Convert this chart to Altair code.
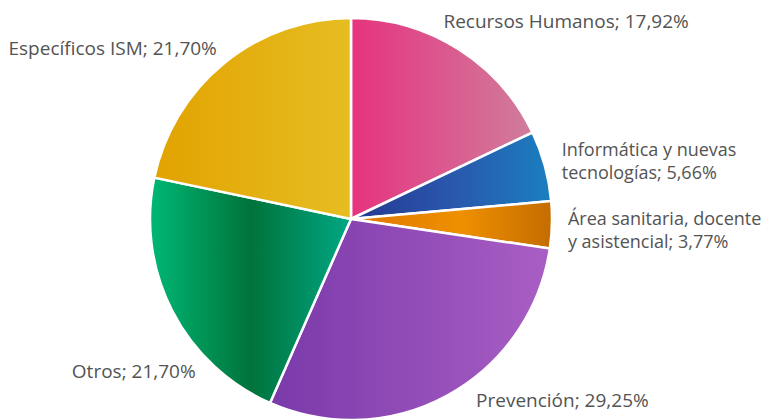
import altair as alt
import pandas as pd

categories = ["Recursos Humanos", "Informática y nuevas tecnologías",
              "Área sanitaria, docente y asistencial", "Prevención",
              "Otros", "Específicos ISM"]
values = [17.92, 5.66, 3.77, 29.25, 21.70, 21.70]
labels = ["Recursos Humanos; 17,92%",
          "Informática y nuevas\ntecnologías; 5,66%",
          "Área sanitaria, docente\ny asistencial; 3,77%",
          "Prevención; 29,25%",
          "Otros; 21,70%",
          "Específicos ISM; 21,70%"]

df = pd.DataFrame({"cat": categories, "value": values, "label": labels,
                   "order": list(range(len(categories)))})

# styles (gradient stops per slice) and label placement offsets
gradients = {
    "Recursos Humanos": [(0, "#E6337F"), (1, "#D07D9C")],
    "Informática y nuevas tecnologías": [(0, "#243890"), (0.5, "#2A57AC"), (1, "#1A7FBF")],
    "Área sanitaria, docente y asistencial": [(0, "#DF7700"), (0.55, "#EE9000"), (1, "#C46C00")],
    "Prevención": [(0, "#7A3AAA"), (1, "#A95EC4")],
    "Otros": [(0, "#00B874"), (0.5, "#00733B"), (1, "#00A884")],
    "Específicos ISM": [(0, "#E2A300"), (1, "#E6BD22")],
}
label_style = {
    "Recursos Humanos": dict(align="left", dx=-17, dy=-18, size=19),
    "Informática y nuevas tecnologías": dict(align="left", dx=13, dy=-9, size=18),
    "Área sanitaria, docente y asistencial": dict(align="left", dx=12, dy=0, size=18),
    "Prevención": dict(align="left", dx=26, dy=9, size=19),
    "Otros": dict(align="right", dx=27, dy=65, size=19),
    "Específicos ISM": dict(align="right", dx=-5, dy=-5, size=19),
}

base = alt.Chart(df).transform_window(
    cum="sum(value)", frame=[None, 0], sort=[alt.SortField("order")]
).transform_calculate(
    start="datum.cum - datum.value",
    mid="datum.cum - datum.value / 2",
)

theta_scale = alt.Scale(domain=[0, 100])
layers = []
for cat in categories:
    grad = alt.LinearGradient(
        gradient="linear",
        stops=[alt.GradientStop(offset=o, color=c) for o, c in gradients[cat]],
        x1=0, x2=1, y1=0, y2=0,
    )
    layers.append(
        base.transform_filter(alt.datum.cat == cat)
        .mark_arc(fill=grad, outerRadius=201, stroke="white", strokeWidth=2.5)
        .encode(theta=alt.Theta("start:Q", scale=theta_scale), theta2="cum:Q")
    )
for cat in categories:
    st = label_style[cat]
    layers.append(
        base.transform_filter(alt.datum.cat == cat)
        .mark_text(radius=205, align=st["align"], baseline="alphabetic",
                   dx=st["dx"], dy=st["dy"], font="Open Sans", fontSize=st["size"],
                   color="#535353", lineBreak="\n", lineHeight=23)
        .encode(theta=alt.Theta("mid:Q", scale=theta_scale), text="label:N")
    )

chart = alt.layer(*layers).properties(
    width=686, height=400,
    autosize=alt.AutoSizeParams(type="none"),
    padding={"left": 0, "top": 11, "right": 69, "bottom": 0},
).configure_view(stroke=None)

chart.save("out.html", embed_options={"renderer": "svg", "actions": False})
